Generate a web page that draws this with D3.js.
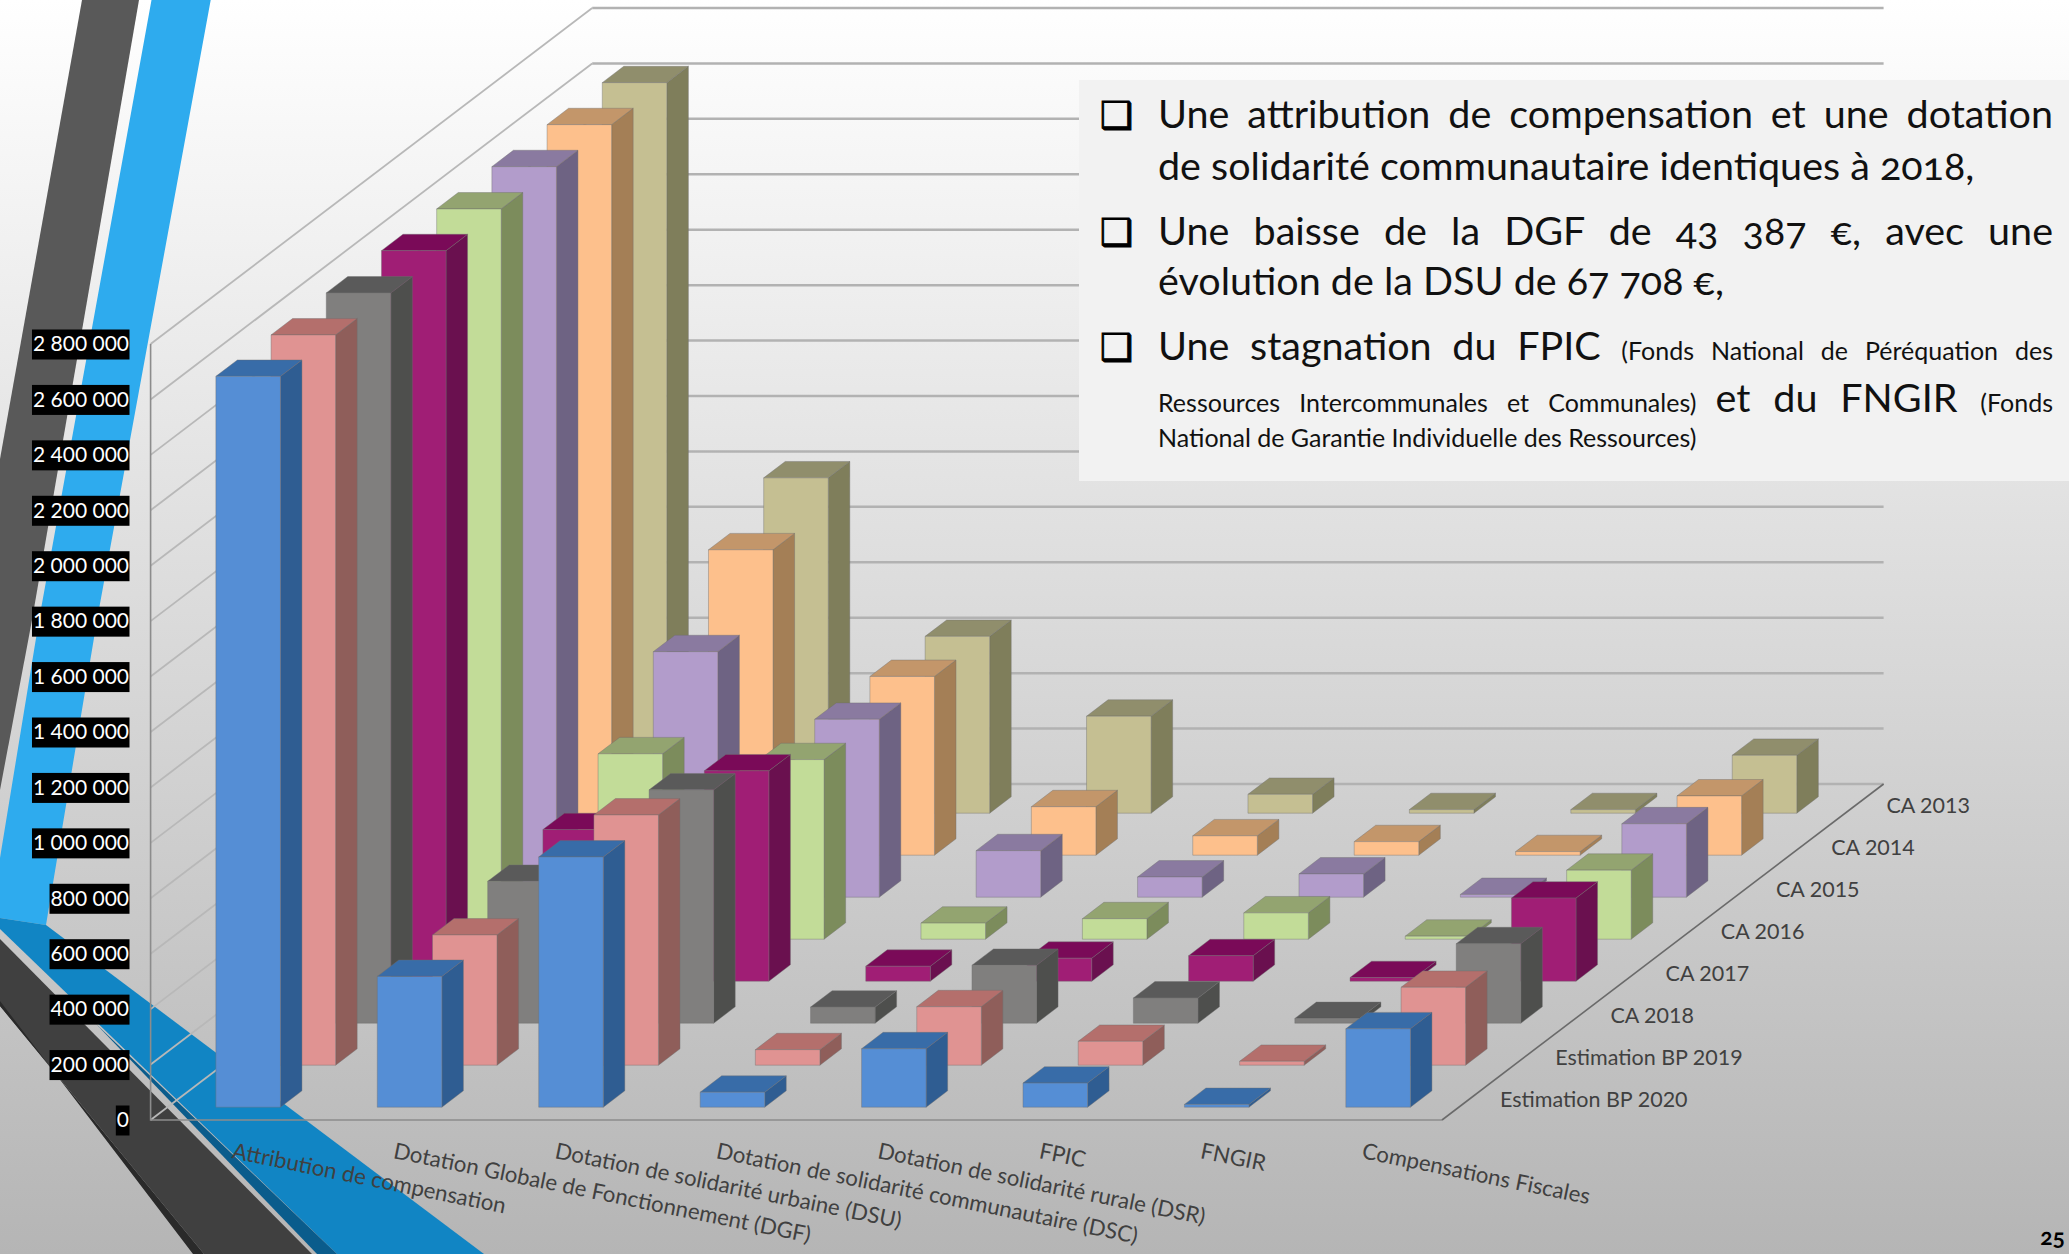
<!DOCTYPE html>
<html>
<head>
<meta charset="utf-8">
<script src="https://cdn.jsdelivr.net/npm/d3@7"></script>
<style>
body { margin: 0; background: #fff; }
text { font-family: Lato, "Open Sans", sans-serif; }
</style>
</head>
<body>
<div id="chart"></div>
<script>
// chart data
var categories = ["Attribution de compensation", "Dotation Globale de Fonctionnement (DGF)", "Dotation de solidarité urbaine (DSU)", "Dotation de solidarité communautaire (DSC)", "Dotation de solidarité rurale (DSR)", "FPIC", "FNGIR", "Compensations Fiscales"];
var series = ["Estimation BP 2020", "Estimation BP 2019", "CA 2018", "CA 2017", "CA 2016", "CA 2015", "CA 2014", "CA 2013"];
var bp2020 = [2637000, 472000, 903000, 54000, 211000, 87000, 10000, 283000];
var bp2019 = [2635000, 470000, 903000, 56000, 211000, 86000, 14000, 281000];
var ca2018 = [2635000, 512000, 842000, 58000, 209000, 91000, 17000, 287000];
var ca2017 = [2636000, 547000, 759000, 54000, 83000, 92000, 13000, 300000];
var ca2016 = [2635000, 669000, 648000, 58000, 74000, 95000, 11000, 249000];
var ca2015 = [2636000, 886000, 642000, 168000, 73000, 84000, 10000, 265000];
var ca2014 = [2636000, 1102000, 645000, 175000, 70000, 49000, 13000, 214000];
var ca2013 = [2636000, 1210000, 638000, 350000, 68000, 13000, 13000, 209000];
var seriesValues = [bp2020, bp2019, ca2018, ca2017, ca2016, ca2015, ca2014, ca2013];
var yTicks = [0, 200000, 400000, 600000, 800000, 1000000, 1200000, 1400000, 1600000, 1800000, 2000000, 2200000, 2400000, 2600000, 2800000];

// front, side and top colour of each series
var frontColors = ["#558ed5", "#e09392", "#807f7e", "#a01e75", "#c2dc98", "#b29ccb", "#fdc08c", "#c5bf92"];
var sideColors = ["#2f5d92", "#8f5e5a", "#4e4f4d", "#6a104f", "#7c8c5c", "#6e6383", "#a47f56", "#7f7e5b"];
var topColors = ["#386ca8", "#b46f6c", "#5a5a5a", "#7a0a58", "#93a470", "#8a7aa0", "#c3966a", "#908e6c"];

var width = 2069, height = 1254;

// the floor is a parallelogram, depth goes up and to the right
var depthX = 441.6, depthY = 336;

var svg = d3.select("#chart")
    .append("svg")
    .attr("width", width)
    .attr("height", height)
    .style("display", "block");

// slide background
var defs = svg.append("defs");
var bg = defs.append("linearGradient")
    .attr("id", "bg")
    .attr("x1", 0).attr("y1", 0).attr("x2", 0).attr("y2", 1);
bg.append("stop").attr("offset", "0%").attr("stop-color", "#ffffff");
bg.append("stop").attr("offset", "100%").attr("stop-color", "#b5b5b5");
svg.append("rect")
    .attr("width", width)
    .attr("height", height)
    .attr("fill", "url(#bg)");

// decorative stripes of the slide theme
var stripes = [
    {fill: "#595959", pts: [[82, 0], [139, 0], [32, 620], [0, 790], [0, 459]]},
    {fill: "#2eabee", pts: [[151.5, 0], [210.7, 0], [97, 620], [46, 925], [0, 918], [0, 858], [39, 620]]},
    {fill: "#1185c4", pts: [[0, 918], [46, 925], [484, 1254], [337, 1254], [0, 929]]},
    {fill: "#0a5c8c", pts: [[96, 1024], [337, 1254], [317, 1254]]},
    {fill: "#404040", pts: [[0, 939], [312, 1254], [204, 1254], [0, 1006]]},
    {fill: "#2a2a2a", pts: [[0, 1006], [204, 1254], [193, 1254], [0, 1001]]}
];
svg.selectAll(".stripe")
    .data(stripes)
    .enter()
    .append("polygon")
    .attr("class", "stripe")
    .attr("fill", function(d) { return d.fill; })
    .attr("points", function(d) { return d.pts.join(" "); });

// scales
var x = d3.scaleBand()
    .domain(categories)
    .range([150.6, 1442])
    .paddingInner(0.6)
    .paddingOuter(0.3);
var z = d3.scaleBand()
    .domain(series)
    .range([0, 1])
    .paddingInner(0.61)
    .paddingOuter(0.305);
var y = d3.scaleLinear()
    .domain([0, 2800000])
    .range([1120, 344]);

// screen position of a point: px on the front plane, depth from 0 to 1, value
function project(px, depth, value) {
    return [px + depth * depthX, y(value) - depth * depthY];
}

function pointsOf(list) {
    return list.join(" ");
}

var walls = svg.append("g");

// gridlines on the back wall and on the left wall
walls.selectAll(".backLine")
    .data(yTicks)
    .enter()
    .append("line")
    .attr("x1", project(150.6, 1, 0)[0])
    .attr("x2", project(1442, 1, 0)[0])
    .attr("y1", function(d) { return project(150.6, 1, d)[1]; })
    .attr("y2", function(d) { return project(150.6, 1, d)[1]; })
    .attr("stroke", "#b2b2b2")
    .attr("stroke-width", 2.5);
walls.selectAll(".leftLine")
    .data(yTicks)
    .enter()
    .append("line")
    .attr("x1", project(150.6, 0, 0)[0])
    .attr("x2", project(150.6, 1, 0)[0])
    .attr("y1", function(d) { return project(150.6, 0, d)[1]; })
    .attr("y2", function(d) { return project(150.6, 1, d)[1]; })
    .attr("stroke", "#b8b8b8")
    .attr("stroke-width", 1.8);

// the axis frame
walls.append("polyline")
    .attr("fill", "none")
    .attr("stroke", "#8c8c8c")
    .attr("stroke-width", 1.6)
    .attr("points", pointsOf([project(150.6, 0, 2800000), project(150.6, 0, 0), project(1442, 0, 0)]));
walls.append("polyline")
    .attr("fill", "none")
    .attr("stroke", "#6a6a6a")
    .attr("stroke-width", 1.6)
    .attr("points", pointsOf([project(1442, 0, 0), project(1442, 1, 0)]));

// the bars, last row first so the front rows cover the back ones
var rows = svg.selectAll(".row")
    .data(d3.range(series.length).reverse())
    .enter()
    .append("g")
    .attr("class", "row");

rows.each(function(s) {
    var row = d3.select(this);
    var d0 = z(series[s]), d1 = d0 + z.bandwidth();
    categories.forEach(function(cat, i) {
        var v = seriesValues[s][i];
        var x0 = x(cat), x1 = x0 + x.bandwidth();
        var faces = [
            {fill: sideColors[s], pts: [project(x1, d0, 0), project(x1, d1, 0), project(x1, d1, v), project(x1, d0, v)]},
            {fill: topColors[s], pts: [project(x0, d0, v), project(x1, d0, v), project(x1, d1, v), project(x0, d1, v)]},
            {fill: frontColors[s], pts: [project(x0, d0, 0), project(x1, d0, 0), project(x1, d0, v), project(x0, d0, v)]}
        ];
        row.selectAll(".face" + i)
            .data(faces)
            .enter()
            .append("polygon")
            .attr("fill", function(d) { return d.fill; })
            .attr("stroke", "#6f6f6f")
            .attr("stroke-opacity", 0.4)
            .attr("stroke-width", 1)
            .attr("points", function(d) { return pointsOf(d.pts); });
    });
});

// value axis, white on black boxes
var fmt = function(d) {
    return d3.format(",")(d).replace(/,/g, " ");
};
var yAxis = svg.append("g")
    .attr("transform", "translate(129,0)")
    .call(d3.axisLeft(y).tickValues(yTicks).tickSize(0).tickPadding(0).tickFormat(fmt));
yAxis.select(".domain").remove();
yAxis.selectAll("text")
    .attr("fill", "#fff")
    .style("font-family", "Lato, sans-serif")
    .style("font-size", "21px");
yAxis.selectAll(".tick").each(function() {
    var t = d3.select(this);
    var box = t.select("text").node().getBBox();
    t.insert("rect", "text")
        .attr("x", box.x - 1)
        .attr("y", -15)
        .attr("width", box.width + 1.5)
        .attr("height", 30)
        .attr("fill", "#000");
});

// category labels, tilted along the floor
svg.selectAll(".catLabel")
    .data(categories)
    .enter()
    .append("text")
    .attr("class", "catLabel")
    .attr("transform", function(d) {
        return "translate(" + (x(d) + 32) + ",1158) rotate(11.5)";
    })
    .attr("fill", "#404040")
    .style("font-size", "22.2px")
    .text(function(d) { return d; });

// series labels along the right edge of the floor
svg.selectAll(".serLabel")
    .data(series)
    .enter()
    .append("text")
    .attr("class", "serLabel")
    .attr("x", function(d) { return project(1500, z(d) - z(series[0]), 0)[0]; })
    .attr("y", function(d) { return project(1500, z(d) - z(series[0]), 0)[1] - 13; })
    .attr("fill", "#404040")
    .style("font-size", "21.5px")
    .text(function(d) { return d; });

// text box on top of the chart
svg.append("rect")
    .attr("x", 1079)
    .attr("y", 80)
    .attr("width", width - 1079)
    .attr("height", 401)
    .attr("fill", "#f2f2f2");

var big = 39.5, small = 25;
var noteLines = [
    {y: 128, justify: true, bullet: true, runs: [["Une attribution de compensation et une dotation", big]]},
    {y: 180, justify: false, runs: [["de solidarité communautaire identiques à 2018,", big]]},
    {y: 245, justify: true, bullet: true, runs: [["Une baisse de la DGF de 43 387 €, avec une", big]]},
    {y: 295, justify: false, runs: [["évolution de la DSU de 67 708 €,", big]]},
    {y: 360, justify: true, bullet: true, runs: [["Une stagnation du FPIC ", big], ["(Fonds National de Péréquation des", small]]},
    {y: 412, justify: true, runs: [["Ressources Intercommunales et Communales) ", small], ["et du FNGIR ", big], ["(Fonds", small]]},
    {y: 447, justify: false, runs: [["National de Garantie Individuelle des Ressources)", small]]}
];
var textLeft = 1158, textRight = 2053;

noteLines.forEach(function(line) {
    var t = svg.append("text")
        .attr("x", textLeft)
        .attr("y", line.y)
        .attr("fill", "#111")
        .style("font-feature-settings", "'onum'");
    line.runs.forEach(function(r) {
        t.append("tspan").style("font-size", r[1] + "px").text(r[0]);
    });
    if (line.justify) {
        var txt = line.runs.map(function(r) { return r[0]; }).join("").trim();
        var gaps = txt.split(" ").length - 1;
        var spare = textRight - textLeft - t.node().getComputedTextLength();
        t.style("word-spacing", (spare / gaps) + "px");
    }
    if (line.bullet) {
        svg.append("text")
            .attr("x", 1100)
            .attr("y", line.y)
            .attr("fill", "#000")
            .attr("stroke", "#000")
            .attr("stroke-width", 0.9)
            .style("font-family", "'DejaVu Sans'")
            .style("font-size", "37px")
            .text("\u2751");
    }
});

// page number
svg.append("text")
    .attr("x", 2065)
    .attr("y", 1245)
    .attr("text-anchor", "end")
    .attr("fill", "#000")
    .style("font-size", "23px")
    .style("font-weight", "bold")
    .style("font-feature-settings", "'onum'")
    .text("25");
</script>
</body>
</html>
